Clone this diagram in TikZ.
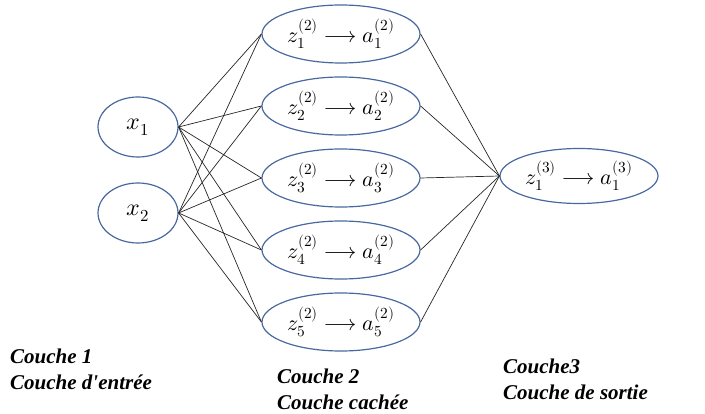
\documentclass[tikz,border=0pt]{standalone}
\usepackage{unicode-math}
\setmainfont{Liberation Serif}
\setmathfont{Latin Modern Math}
\usetikzlibrary{shapes.geometric,positioning}
\definecolor{neuronblue}{RGB}{74,104,160}

\begin{document}
\begin{tikzpicture}[
    x=1pt, y=-1pt,
    font=\fontsize{22}{26}\selectfont,
    inneuron/.style={ellipse, draw=neuronblue, line width=1.2pt, inner sep=0pt, minimum width=80pt, minimum height=60pt, font=\fontsize{24}{28}\selectfont},
    hidneuron/.style={ellipse, draw=neuronblue, line width=1.2pt, inner sep=0pt, minimum width=158pt, minimum height=58pt},
    layerlabel/.style={font=\fontsize{21}{26}\selectfont\bfseries\itshape, align=left, anchor=north west, inner sep=0pt},
    link/.style={draw=black!85, line width=0.7pt}
]
    \useasboundingbox (0,0) rectangle (705,414);

    % Nodes
    \node[inneuron] (x1) at (138,127) {$x_1$};
    \node[inneuron] (x2) at (138,213) {$x_2$};

    \node[hidneuron] (h1) at (341,34)  {$z_1^{(2)}\longrightarrow a_1^{(2)}$};
    \node[hidneuron] (h2) at (341,106) {$z_2^{(2)}\longrightarrow a_2^{(2)}$};
    \node[hidneuron] (h3) at (341,178) {$z_3^{(2)}\longrightarrow a_3^{(2)}$};
    \node[hidneuron] (h4) at (341,250) {$z_4^{(2)}\longrightarrow a_4^{(2)}$};
    \node[hidneuron] (h5) at (341,322) {$z_5^{(2)}\longrightarrow a_5^{(2)}$};

    \node[hidneuron, minimum height=55pt] (out) at (579,176) {$z_1^{(3)}\longrightarrow a_1^{(3)}$};

    \node[layerlabel] (lab1) at (10,349) {Couche 1\\Couche d\textquotesingle entrée};
    \node[layerlabel] (lab2) at (277,369) {Couche 2\\Couche cachée};
    \node[layerlabel] (lab3) at (503,359) {Couche3\\Couche de sortie};

    % Links
    \foreach \i in {x1,x2}
        \foreach \j in {h1,h2,h3,h4,h5}
            \draw[link] (\i.east) -- (\j.west);
    \foreach \j in {h1,h2,h3,h4,h5}
        \draw[link] (\j.east) -- (out.west);
\end{tikzpicture}
\end{document}
